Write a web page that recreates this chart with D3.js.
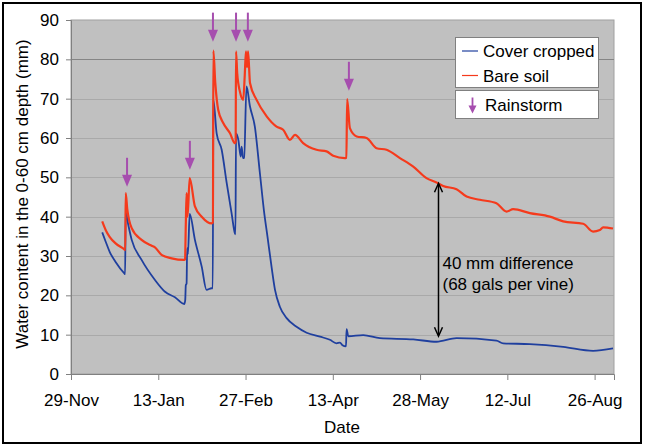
<!DOCTYPE html>
<html><head><meta charset="utf-8">
<script src="https://cdn.jsdelivr.net/npm/d3@7"></script>
<style>
body{margin:0;background:#fff;}
svg{display:block;font-family:"Liberation Sans",Arial,sans-serif;}
</style></head>
<body><svg id="c" width="650" height="445"></svg>
<script>
// Days counted from 29-Nov
const tickDays = [0, 45, 90, 135, 180, 225, 270];
const tickLabels = ["29-Nov", "13-Jan", "27-Feb", "13-Apr", "28-May", "12-Jul", "26-Aug"];
const yTicks = [0, 10, 20, 30, 40, 50, 60, 70, 80, 90];

const coverCropped = [
 [16.1,36.0],[18,33.5],[20,31],[23,28.5],[27.5,25.6],[27.9,25.4],[28.2,41.3],[29.5,38],[31.3,34.1],
 [36.4,29.0],[43.3,23.9],[48.5,20.9],[53.6,19.5],[58.4,17.8],[58.9,18.8],[59.2,22.6],[59.6,23],
 [59.9,32],[60.3,30.5],[61.2,40.7],[63.9,34.1],[67.4,27.3],[69.9,21.4],[72.5,21.8],[73.1,21.8],
 [73.4,69.7],[75.1,61.2],[77.7,57],[80.3,48.5],[82.8,40.9],[84.5,35.8],[84.8,35.5],[85.1,61.2],
 [86.3,59.5],[87.5,55.3],[88.0,57.8],[88.7,54.9],[89.3,55],[90.5,73.1],[92.3,68],[94.8,62.9],
 [97.4,51.1],[99.5,41.5],[101.3,35],[103.4,27.3],[105.2,21.4],[107.7,17.1],[111.2,14.2],[116.3,12.0],
 [121.5,10.5],[128.4,9.5],[133.5,8.7],[136.9,7.8],[138.7,8.0],[140,7.3],[141.8,7.0],[142.1,11.4],
 [143,9.6],[150.7,9.9],[159.3,9.1],[176.5,8.8],[188.5,8.2],[198.8,9.1],[219.4,8.5],[222.8,7.8],
 [236.6,7.6],[253.8,6.9],[269.2,5.9],[279.5,6.5]
];
const bareSoil = [
 [16.1,38.8],[18,36.5],[20,34.8],[23,33.2],[27.5,31.7],[28.0,31.5],[28.2,46.0],[29,42],[31.3,37.1],
 [36.4,34.1],[41.6,32.6],[43.3,32.2],[46.7,30.3],[51.9,29.4],[58.4,29.0],[58.8,29.2],[59.2,38],
 [59.6,46],[60.1,40],[61.2,49.8],[63.9,42.6],[67.4,40.0],[72.5,38.3],[73.2,38.5],[73.4,82.2],
 [74.4,74.0],[75.9,67.2],[78.5,63.8],[82,61.2],[84.5,58.7],[84.9,59],[85.1,82],[85.7,76.5],
 [87.1,71.8],[88.8,69.7],[89.6,76],[90.2,82],[90.8,78],[91.3,82],[92.3,74],[95.7,69.7],[100.9,65.5],
 [106,62.9],[109.4,62.1],[112.9,59.5],[115.5,60.8],[119.7,58.7],[126.6,57],[131.8,56.6],[135.2,55.5],
 [141.2,54.9],[142.0,55],[142.4,69.9],[143.8,62.5],[147.3,60.4],[152.4,60],[157.6,57.4],[162.7,57],
 [169.6,54.9],[176.5,52.7],[183.3,49.8],[188.5,48.7],[191.9,47.8],[198.8,47],[204,45.1],[210.8,44.3],
 [219.4,43.4],[224.6,41.3],[228,41.9],[236.6,40.9],[246.9,40.0],[253.8,38.8],[264.1,38.2],[269.2,36.2],
 [272.7,36.6],[274.4,37.3],[279.5,37.0]
];
// Rainstorm arrows: day, value at arrow tip
const rainDays = [28.9, 61.3, 73.2, 85.1, 91.2, 143.3];
const rainTips = [47.6, 51.9, 84.5, 84.5, 84.5, 72.0];
// Difference annotation
const diffDay = 189.5, diffTop = 48.5, diffBottom = 9.6;
const diffText = ["40 mm difference", "(68 gals per vine)"];

const svg = d3.select("#c");
const L = 71, R = 614, T = 20, B = 374;
const x = d3.scaleLinear().domain([0, 280]).range([L, R]);
const y = d3.scaleLinear().domain([0, 90]).range([B, T]);

const blue = "#1f3f9e", red = "#f53a1c", purple = "#a64eae";

svg.append("rect").attr("x", 3).attr("y", 3).attr("width", 638).attr("height", 440)
  .attr("fill", "#fff").attr("stroke", "#000").attr("stroke-width", 2);

svg.append("rect").attr("x", L).attr("y", T).attr("width", R - L).attr("height", B - T)
  .attr("fill", "#c0c0c0").attr("stroke", "#a0a0a0").attr("stroke-width", 1);

// gridlines
svg.append("g").selectAll("line").data(yTicks.filter(d => d > 0 && d < 90)).join("line")
  .attr("x1", L).attr("x2", R).attr("y1", d => Math.round(y(d)) + 0.5).attr("y2", d => Math.round(y(d)) + 0.5)
  .attr("stroke", d => d === 80 ? "#858585" : "#a9a9a9").attr("stroke-width", 1);

// axes
const yAxis = d3.axisLeft(y).tickValues(yTicks).tickSize(5).tickPadding(7);
const gy = svg.append("g").attr("transform", `translate(${L},0)`).call(yAxis);
const xAxis = d3.axisBottom(x).tickValues(tickDays).tickSize(6).tickPadding(14)
  .tickFormat((d, i) => tickLabels[i]);
const gx = svg.append("g").attr("transform", `translate(0,${B})`).call(xAxis);
[gx, gy].forEach(g => {
  g.select(".domain").attr("stroke", "#808080");
  g.selectAll(".tick line").attr("stroke", "#808080");
  g.selectAll("text").attr("font-size", 17).attr("fill", "#000")
    .attr("font-family", "'Liberation Sans', Arial, sans-serif");
});

// clip
svg.append("clipPath").attr("id", "clip").append("rect")
  .attr("x", L).attr("y", T).attr("width", R - L).attr("height", B - T);

const line = d3.line().x(d => x(d[0])).y(d => y(d[1])).curve(d3.curveMonotoneX);
const plot = svg.append("g").attr("clip-path", "url(#clip)");
plot.append("path").datum(coverCropped).attr("d", line).attr("fill", "none")
  .attr("stroke", blue).attr("stroke-width", 1.8).attr("stroke-linejoin", "round");
plot.append("path").datum(bareSoil).attr("d", line).attr("fill", "none")
  .attr("stroke", red).attr("stroke-width", 2.2).attr("stroke-linejoin", "round");

// rain arrows
function rainArrow(g, cx, tipY, len, headW, headH, sw) {
  g.append("line").attr("x1", cx).attr("x2", cx).attr("y1", tipY - len).attr("y2", tipY - headH + 1)
    .attr("stroke", purple).attr("stroke-width", sw);
  g.append("path").attr("d", `M${cx - headW / 2},${tipY - headH}L${cx + headW / 2},${tipY - headH}L${cx},${tipY}Z`)
    .attr("fill", purple);
}
const ra = svg.append("g");
rainDays.forEach((d, i) => rainArrow(ra, x(d), y(rainTips[i]), 29, 10, 12, 2));

// difference arrow
const ax = x(diffDay), ay1 = y(diffTop), ay2 = y(diffBottom);
const an = svg.append("g").attr("stroke", "#000").attr("stroke-width", 1.5).attr("fill", "none");
an.append("line").attr("x1", ax).attr("x2", ax).attr("y1", ay1 + 1).attr("y2", ay2 - 1);
an.append("path").attr("d", `M${ax - 4},${ay1 + 9}L${ax},${ay1}L${ax + 4},${ay1 + 9}`);
an.append("path").attr("d", `M${ax - 4},${ay2 - 9}L${ax},${ay2}L${ax + 4},${ay2 - 9}`);
svg.append("g").selectAll("text").data(diffText).join("text")
  .attr("x", ax + 4).attr("y", (d, i) => 269 + i * 21).attr("font-size", 17).attr("fill", "#000")
  .text(d => d);

// legend
const lg = svg.append("g");
lg.append("rect").attr("x", 455.5).attr("y", 37.5).attr("width", 143).attr("height", 50)
  .attr("fill", "#fff").attr("stroke", "#808080");
lg.append("rect").attr("x", 455.5).attr("y", 90.5).attr("width", 143).attr("height", 28)
  .attr("fill", "#fff").attr("stroke", "#808080");
[["Cover cropped", blue, 51], ["Bare soil", red, 75.5]].forEach(([t, c, yy]) => {
  lg.append("line").attr("x1", 462).attr("x2", 478).attr("y1", yy).attr("y2", yy)
    .attr("stroke", c).attr("stroke-width", 1.2);
  lg.append("text").attr("x", 483).attr("y", yy + 6).attr("font-size", 17).text(t);
});
rainArrow(lg, 472.5, 113.5, 16, 8, 8, 1.8);
lg.append("text").attr("x", 485).attr("y", 111).attr("font-size", 17).text("Rainstorm");

// axis titles
svg.append("text").attr("x", 342).attr("y", 433).attr("text-anchor", "middle")
  .attr("font-size", 17).text("Date");
svg.append("text").attr("transform", "translate(28,194) rotate(-90)").attr("text-anchor", "middle")
  .attr("font-size", 17).text("Water content in the 0-60 cm depth (mm)");
</script></body></html>
